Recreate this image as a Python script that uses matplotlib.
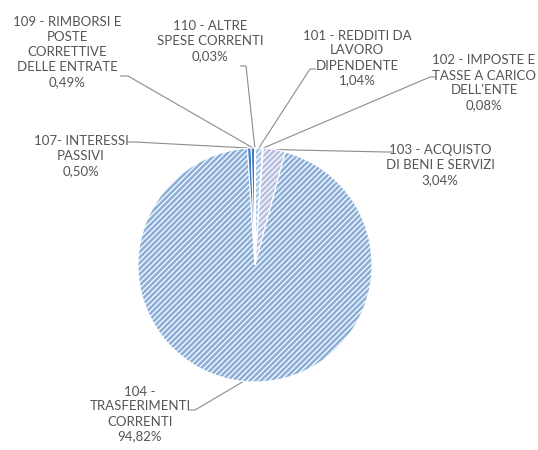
import numpy as np
import matplotlib
matplotlib.use("Agg")
import matplotlib.pyplot as plt

# ---- data ----
codes = ["101", "102", "103", "104", "107", "109", "110"]
labels = [
    "101 - REDDITI DA\nLAVORO\nDIPENDENTE",
    "102 - IMPOSTE E\nTASSE A CARICO\nDELL'ENTE",
    "103 - ACQUISTO\nDI BENI E SERVIZI",
    "104 -\nTRASFERIMENTI\nCORRENTI",
    "107- INTERESSI\nPASSIVI",
    "109 - RIMBORSI E\nPOSTE\nCORRETTIVE\nDELLE ENTRATE",
    "110 - ALTRE\nSPESE CORRENTI",
]
values = [1.04, 0.08, 3.04, 94.82, 0.50, 0.49, 0.03]
pct_text = ["1,04%", "0,08%", "3,04%", "94,82%", "0,50%", "0,49%", "0,03%"]

# ---- styles ----
colors = ["#a6c6ea", "#c9d8ee", "#b8c0e2", "#8cafd9", "#3f7dc8", "#3f7dc8", "#2f5f9f"]
hatches = ["//////", "", "//////", "//////", "", "", ""]
explode = [0.07, 0.07, 0.07, 0.0, 0.07, 0.07, 0.07]
txt_color = "#555555"
line_color = "#8c8c8c"

matplotlib.rcParams['hatch.linewidth'] = 0.9

W, H = 538, 450
fig = plt.figure(figsize=(W / 100, H / 100), dpi=100)
ax = fig.add_axes([0, 0, 1, 1])

cx, cy_pix, R = 255, 265, 117
center = (cx, H - cy_pix)

wedges, _ = ax.pie(values, startangle=90, counterclock=False, colors=colors,
                   explode=explode, radius=R, center=center,
                   wedgeprops=dict(edgecolor="white", linewidth=0.8))
for w, h in zip(wedges, hatches):
    if h:
        w.set_hatch(h)

ax.set_xlim(0, W)
ax.set_ylim(0, H)
ax.set_aspect("equal")
ax.axis("off")

# label placement (pixel coords, y from top): text center, leader start, leader elbow
label_pos = {
    "101": ((357, 58), (316, 69), (310, 69)),
    "102": ((484, 83), (436, 77), (430, 77)),
    "103": ((440, 165), (392, 152), (386, 152)),
    "104": ((140, 414), (188, 410), (195, 410)),
    "107": ((81, 156), (128, 142), (135, 142)),
    "109": ((67, 52), (120, 76), (128, 76)),
    "110": ((210, 41), (240, 66), (246, 66)),
}

for w, code, lab, pt in zip(wedges, codes, labels, pct_text):
    (tx, ty), (sx, sy), (hx, hy) = label_pos[code]
    ax.text(tx, H - ty, lab + "\n" + pt, ha="center", va="center",
            fontsize=9.5, color=txt_color, linespacing=1.3,
            family=["Lato", "DejaVu Sans"])
    ang = np.deg2rad((w.theta1 + w.theta2) / 2)
    wcx, wcy = w.center
    px = wcx + w.r * np.cos(ang)
    py = wcy + w.r * np.sin(ang)
    ax.plot([sx, hx, px], [H - sy, H - hy, py], color=line_color, lw=0.8,
            solid_capstyle="butt", zorder=0)

fig.savefig("out.png", dpi=100, facecolor="white")
